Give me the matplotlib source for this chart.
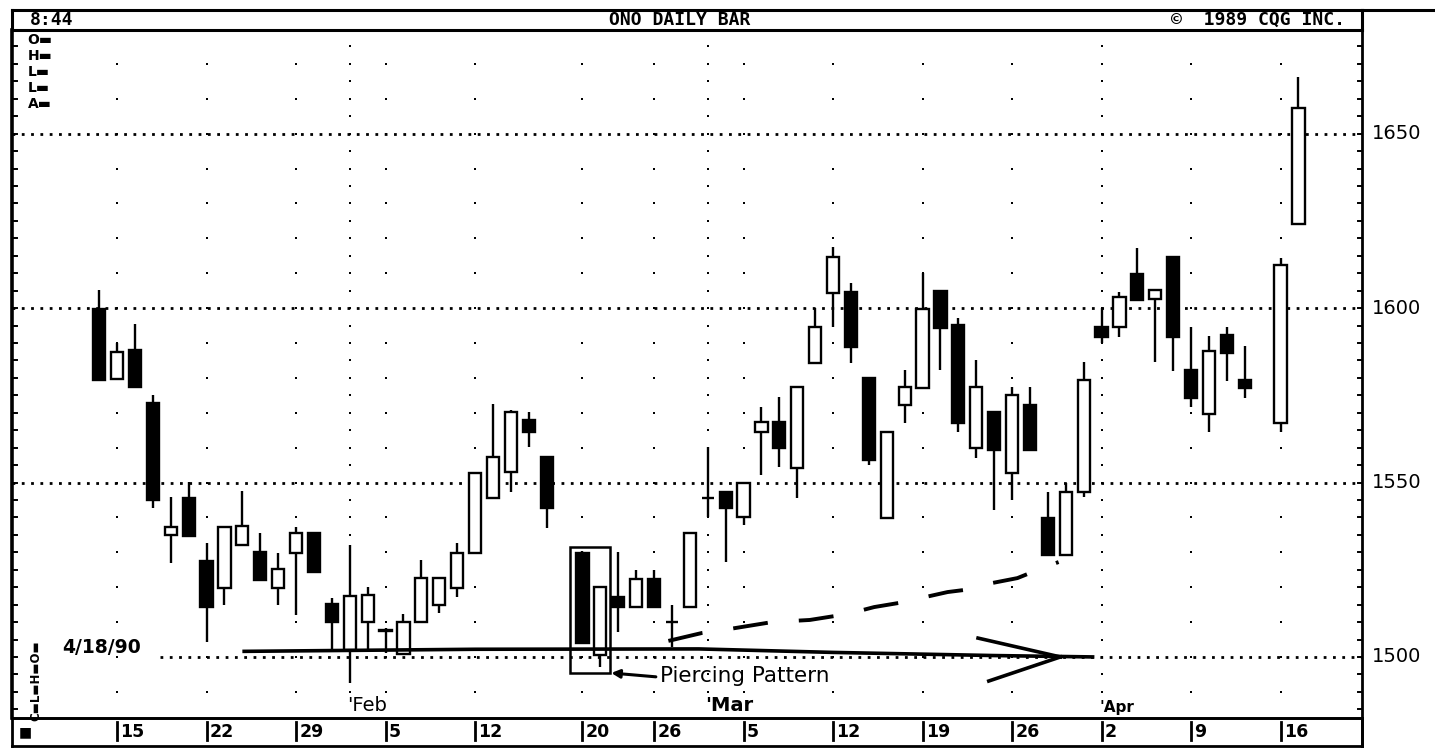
import numpy as np
import matplotlib
matplotlib.use("Agg")
import matplotlib.pyplot as plt
from matplotlib.patches import Rectangle
from matplotlib.lines import Line2D

# ---------------- data ----------------
dates = ["1990-01-12", "1990-01-15", "1990-01-16", "1990-01-17", "1990-01-18", "1990-01-19",
         "1990-01-22", "1990-01-23", "1990-01-24", "1990-01-25", "1990-01-26",
         "1990-01-29", "1990-01-30", "1990-01-31", "1990-02-01", "1990-02-02",
         "1990-02-05", "1990-02-06", "1990-02-07", "1990-02-08", "1990-02-09",
         "1990-02-12", "1990-02-13", "1990-02-14", "1990-02-15", "1990-02-16",
         "1990-02-20", "1990-02-21", "1990-02-22", "1990-02-23",
         "1990-02-26", "1990-02-27", "1990-02-28", "1990-03-01", "1990-03-02",
         "1990-03-05", "1990-03-06", "1990-03-07", "1990-03-08", "1990-03-09",
         "1990-03-12", "1990-03-13", "1990-03-14", "1990-03-15", "1990-03-16",
         "1990-03-19", "1990-03-20", "1990-03-21", "1990-03-22", "1990-03-23",
         "1990-03-26", "1990-03-27", "1990-03-28", "1990-03-29", "1990-03-30",
         "1990-04-02", "1990-04-03", "1990-04-04", "1990-04-05", "1990-04-06",
         "1990-04-09", "1990-04-10", "1990-04-11", "1990-04-12",
         "1990-04-16", "1990-04-17"]
opens = [1599.7, 1579.7, 1588.0, 1572.8, 1535.0, 1545.6,
         1527.5, 1519.8, 1532.1, 1530.1, 1519.8,
         1529.8, 1535.5, 1515.2, 1502.0, 1510.0,
         1507.7, 1500.9, 1510.0, 1514.9, 1519.8,
         1529.8, 1545.6, 1553.0, 1567.9, 1557.3,
         1529.8, 1500.6, 1517.2, 1514.3,
         1522.3, 1510.0, 1514.3, 1545.6, 1547.3,
         1540.1, 1564.5, 1567.3, 1554.2, 1584.2,
         1604.3, 1604.6, 1579.9, 1539.8, 1572.2,
         1577.1, 1604.9, 1595.1, 1559.9, 1570.2,
         1552.7, 1572.2, 1539.8, 1529.2, 1547.3,
         1594.6, 1594.6, 1609.7, 1602.6, 1614.6,
         1582.2, 1569.6, 1592.3, 1579.4,
         1567.0, 1624.1]
highs = [1605.2, 1590.0, 1595.4, 1575.1, 1545.8, 1550.1,
         1532.7, 1537.2, 1547.6, 1535.5, 1529.8,
         1537.2, 1535.5, 1516.9, 1532.1, 1520.1,
         1508.3, 1512.3, 1527.8, 1522.6, 1532.7,
         1553.0, 1572.5, 1570.8, 1570.2, 1557.3,
         1530.4, 1520.1, 1530.1, 1524.9,
         1524.9, 1514.9, 1535.5, 1560.2, 1547.3,
         1549.9, 1571.6, 1574.5, 1577.4, 1600.0,
         1617.5, 1607.2, 1579.9, 1564.5, 1582.2,
         1610.0, 1604.9, 1597.1, 1585.1, 1570.2,
         1577.4, 1577.4, 1547.3, 1549.9, 1584.5,
         1600.0, 1604.6, 1617.2, 1605.2, 1614.6,
         1594.6, 1592.0, 1594.6, 1589.1,
         1614.3, 1666.2]
lows = [1579.4, 1579.7, 1577.4, 1542.7, 1526.9, 1534.7,
        1504.3, 1514.9, 1532.1, 1522.1, 1514.9,
        1512.0, 1524.4, 1502.0, 1492.6, 1502.0,
        1501.1, 1500.6, 1510.0, 1512.6, 1517.2,
        1529.8, 1545.6, 1547.3, 1560.2, 1537.0,
        1504.0, 1497.1, 1507.2, 1514.3,
        1514.3, 1502.9, 1514.3, 1540.1, 1527.2,
        1537.8, 1552.1, 1554.4, 1545.6, 1584.2,
        1594.6, 1584.2, 1555.0, 1539.8, 1567.0,
        1577.1, 1582.2, 1564.5, 1557.0, 1542.1,
        1545.0, 1559.3, 1529.2, 1529.2, 1545.8,
        1590.0, 1591.7, 1602.3, 1584.5, 1581.9,
        1571.6, 1564.5, 1579.1, 1574.2,
        1564.5, 1624.1]
closes = [1579.4, 1587.4, 1577.4, 1545.0, 1537.2, 1534.7,
          1514.3, 1537.2, 1537.5, 1522.1, 1525.2,
          1535.5, 1524.4, 1510.0, 1517.5, 1517.8,
          1507.5, 1510.0, 1522.6, 1522.6, 1529.8,
          1552.7, 1557.3, 1570.2, 1564.5, 1542.7,
          1504.0, 1520.1, 1514.3, 1522.3,
          1514.3, 1510.0, 1535.5, 1545.6, 1542.7,
          1549.9, 1567.3, 1559.9, 1577.4, 1594.6,
          1614.6, 1588.8, 1556.4, 1564.5, 1577.4,
          1599.7, 1594.3, 1567.0, 1577.4, 1559.3,
          1575.1, 1559.3, 1529.2, 1547.3, 1579.4,
          1591.7, 1603.2, 1602.3, 1605.2, 1591.7,
          1574.2, 1587.7, 1587.1, 1577.1,
          1612.3, 1657.3]

week_ticks = ["1990-01-15", "1990-01-22", "1990-01-29", "1990-02-05", "1990-02-12",
              "1990-02-20", "1990-02-26", "1990-03-05", "1990-03-12", "1990-03-19",
              "1990-03-26", "1990-04-02", "1990-04-09", "1990-04-16"]
week_labels = ["15", "22", "29", "5", "12", "20", "26", "5", "12", "19", "26", "2", "9", "16"]
month_dates = ["1990-02-01", "1990-03-01", "1990-04-02"]
month_labels = ["'Feb", "'Mar", "'Apr"]
price_ticks = [1500, 1550, 1600, 1650]
price_labels = ["1500", "1550", "1600", "1650"]

# annotation geometry (weekday index, price)
support_x = [7.0, 20.0, 32.5, 40.0, 49.0, 54.6]
support_y = [1501.6, 1502.2, 1502.3, 1501.3, 1500.4, 1500.0]
curve_x = [30.8, 32.7, 34.2, 36.6, 38.7, 40.8, 42.3, 43.7, 46.4, 47.8, 48.9, 50.3, 51.7, 52.6]
curve_y = [1504.6, 1506.9, 1508.0, 1510.0, 1510.6, 1512.3, 1514.3, 1515.5,
           1518.6, 1519.5, 1521.2, 1522.6, 1525.5, 1527.2]

# ---------------- positions: weekday slots (holidays keep a slot) ----------------
BASE = "1990-01-15"
x = np.busday_count(BASE, np.array(dates, dtype="datetime64[D]"))
tx = np.busday_count(BASE, np.array(week_ticks, dtype="datetime64[D]"))
mx = np.busday_count(BASE, np.array(month_dates, dtype="datetime64[D]"))

W, H = 1435, 749
fig = plt.figure(figsize=(W / 100, H / 100), dpi=100)
fig.patch.set_facecolor("white")


def fx(px):
    return px / W


def fy(py):
    return 1 - py / H


XL = (-5.87, 69.55)
YL = (1482.5, 1679.7)
PXD = (1362 - 12) / (XL[1] - XL[0])   # pixels per weekday slot

ax = fig.add_axes([fx(12), fy(718), fx(1362) - fx(12), fy(30) - fy(718)])
ax.set_xlim(*XL)
ax.set_ylim(*YL)
ax.set_xticks([])
ax.set_yticks([])
for s in ax.spines.values():
    s.set_color("black")
ax.spines["left"].set_linewidth(2.6)
ax.spines["right"].set_linewidth(2.0)
ax.spines["top"].set_linewidth(2.2)
ax.spines["bottom"].set_linewidth(1.8)

# dotted grid lines at 50 levels
for p in price_ticks:
    xs = XL[0] + 148 / PXD if p == 1500 else XL[0]
    ax.plot([xs, XL[1]], [p, p], color="black", lw=2.0,
            linestyle=(0, (1, 2.35)), zorder=1)

# dot matrix: weekly columns at every 10 points, month columns every 5 points
lv10 = np.arange(1490, 1680, 10)
for t in tx:
    ax.scatter(np.full(len(lv10), t), lv10, marker="s", s=3.2, color="black",
               linewidths=0, zorder=1)
lv5 = np.arange(1485, 1680, 5)
for t in mx:
    ax.scatter(np.full(len(lv5), t), lv5, marker="s", s=3.2, color="black",
               linewidths=0, zorder=1)

# inward minor ticks on both borders
lvt = np.arange(1485, 1680, 5)
for p in lvt:
    ax.plot([XL[0], XL[0] + 0.3], [p, p], color="black", lw=1.4, zorder=2)
    ax.plot([XL[1] - 0.25, XL[1]], [p, p], color="black", lw=1.4, zorder=2)

# candles
BW = 0.68
for xi, o, h, l, c in zip(x, opens, highs, lows, closes):
    ax.plot([xi, xi], [l, h], color="black", lw=1.7, zorder=3, solid_capstyle="butt")
    bottom = min(o, c)
    height = abs(c - o)
    face = "black" if c < o else "white"
    ax.add_patch(Rectangle((xi - BW / 2, bottom), BW, height, facecolor=face,
                           edgecolor="black", lw=1.7, zorder=4))

# support line with open arrowhead
ax.plot(support_x, support_y, color="black", lw=2.6, zorder=5, solid_capstyle="butt")
tip_x, tip_y = 52.7, support_y[-1]
ax.plot([48.1, tip_x], [1505.4, tip_y], color="black", lw=2.6, zorder=5)
ax.plot([48.7, tip_x], [1493.1, tip_y], color="black", lw=2.6, zorder=5)

# dashed rising curve
ax.plot(curve_x, curve_y, color="black", lw=2.8, linestyle=(0, (9, 8)), zorder=5)

# piercing pattern box from the two candles
i1 = dates.index("1990-02-20")
i2 = dates.index("1990-02-21")
bx0 = x[i1] - 0.68
bx1 = x[i2] + 0.56
by0 = lows[i2] - 1.7
by1 = highs[i1] + 1.1
ax.add_patch(Rectangle((bx0, by0), bx1 - bx0, by1 - by0, fill=False,
                       edgecolor="black", lw=1.8, zorder=6))
ax.annotate("", xy=(bx1 + 0.05, by0), xytext=(x[i2] + 3.1, by0 - 1.1),
            arrowprops=dict(arrowstyle="-|>", color="black", lw=2.2,
                            mutation_scale=12, shrinkA=0, shrinkB=0), zorder=6)
ax.text(x[i2] + 3.35, by0 - 0.9, "Piercing Pattern", fontsize=15.5, color="black",
        family="DejaVu Sans", ha="left", va="center", zorder=7)

ax.text(XL[0] + 50 / PXD, 1502.7, "4/18/90", fontsize=13.5, fontweight="bold",
        family="DejaVu Sans", ha="left", va="center", zorder=7)

# month labels
for m, lab, fs, fw in zip(mx, month_labels, [14, 14, 11], ["normal", "bold", "bold"]):
    ax.text(m - 0.12, YL[0] + 0.9, lab, fontsize=fs, family="DejaVu Sans",
            fontweight=fw, ha="left", va="bottom", zorder=7,
            bbox=dict(facecolor="white", edgecolor="none", pad=0.3))

# right price labels
for p, lab in zip(price_ticks, price_labels):
    ax.text(1.0075, p, lab, transform=ax.get_yaxis_transform(), fontsize=14,
            family="DejaVu Sans", ha="left", va="center", clip_on=False)

# left stacked labels (top) and rotated labels (bottom)
for k, lab in enumerate(["O\u25ac", "H\u25ac", "L\u25ac", "L\u25ac", "A\u25ac"]):
    ax.text(0.0115, 1 - (10 + 16 * k) / 688, lab,
            transform=ax.transAxes, fontsize=10, fontweight="bold",
            family="DejaVu Sans", ha="left", va="center")
ax.text(0.0125, 37 / 688, "C\u25acL\u25acH\u25acO\u25ac", transform=ax.transAxes,
        fontsize=8.5, fontweight="bold", family="DejaVu Sans", ha="left",
        va="center", rotation=90)

# ---------------- header row ----------------
hx = fig.add_axes([fx(12), fy(30), fx(1362) - fx(12), fy(10) - fy(30)])
hx.set_xlim(0, 1)
hx.set_ylim(0, 1)
hx.set_xticks([])
hx.set_yticks([])
hx.patch.set_alpha(0)
for s in hx.spines.values():
    s.set_linewidth(2.2)
hx.spines["bottom"].set_visible(False)
hx.text((30 - 12) / 1350, 0.5, "8:44", fontsize=13, fontweight="bold",
        family="DejaVu Sans Mono", ha="left", va="center")
hx.text((680 - 12) / 1350, 0.5, "ONO DAILY BAR", fontsize=13, fontweight="bold",
        family="DejaVu Sans Mono", ha="center", va="center")
hx.text((1345 - 12) / 1350, 0.5, "\u00a9  1989 CQG INC.", fontsize=13,
        fontweight="bold", family="DejaVu Sans Mono", ha="right", va="center")
fig.add_artist(Line2D([fx(1362), 1.0], [fy(10), fy(10)], color="black", lw=2.2))

# ---------------- bottom date row ----------------
bx = fig.add_axes([fx(12), fy(746), fx(1362) - fx(12), fy(718) - fy(746)])
bx.set_xlim(*XL)
bx.set_ylim(0, 1)
bx.set_xticks([])
bx.set_yticks([])
bx.patch.set_alpha(0)
for s in bx.spines.values():
    s.set_linewidth(2.0)
for t, lab in zip(tx, week_labels):
    bx.plot([t, t], [0.2, 0.85], color="black", lw=2.0)
    bx.text(t + 0.18, 0.5, lab, fontsize=12.5, fontweight="bold",
            family="DejaVu Sans", ha="left", va="center")
bx.text(XL[0] + 0.35, 0.5, "\u25a0", fontsize=10, ha="left", va="center",
        family="DejaVu Sans")
fig.add_artist(Line2D([fx(1362), fx(1362)], [fy(746), fy(718)], color="black", lw=2.0))

fig.savefig("out.png", dpi=100, facecolor="white")
